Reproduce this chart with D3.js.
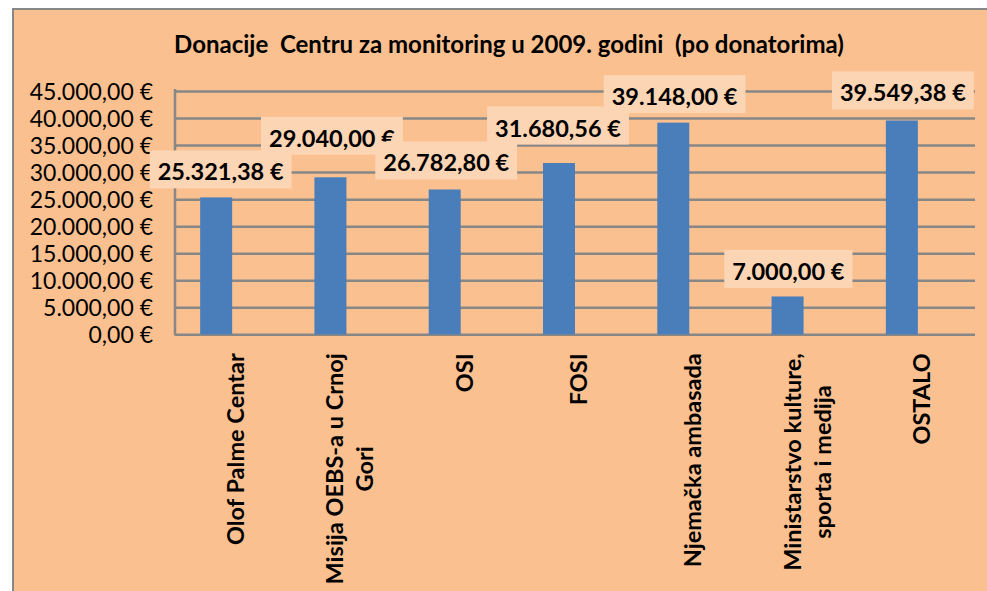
<!DOCTYPE html>
<html>
<head>
<meta charset="utf-8">
<script src="https://d3js.org/d3.v7.min.js"></script>
<style>
    html, body { margin: 0; padding: 0; background: #ffffff; }
    svg { display: block; font-family: Lato, "Noto Sans", sans-serif; }
    .title { white-space: pre; }
</style>
</head>
<body>
<svg id="drawing_region"></svg>
<script>
const title = 'Donacije  Centru za monitoring u 2009. godini  (po donatorima)';
const categories = ['Olof Palme Centar', 'Misija OEBS-a u Crnoj Gori', 'OSI', 'FOSI',
    'Njemačka ambasada', 'Ministarstvo kulture, sporta i medija', 'OSTALO'];
const category_lines = [['Olof Palme Centar'], ['Misija OEBS-a u Crnoj', 'Gori'], ['OSI'], ['FOSI'],
    ['Njemačka ambasada'], ['Ministarstvo kulture,', 'sporta i medija'], ['OSTALO']];
const values = [25321.38, 29040.00, 26782.80, 31680.56, 39148.00, 7000.00, 39549.38];
const y_ticks = [0, 5000, 10000, 15000, 20000, 25000, 30000, 35000, 40000, 45000];

// data labels were dragged by hand in the original, offsets in px from bar top / bar center
const label_dx = [4.5, 1.5, 1.5, -1, 1.3, 0.8, 1];
const label_dy = [-17, -30.5, -18, -26.5, -17.5, -16.5, -19];

const euro = d3.formatLocale({ decimal: ',', thousands: '.', grouping: [3], currency: ['', ' €'] })
    .format('$,.2f');

class DonationChart {

    constructor( config ) {
        this.config = config;
        this.init();
    }

    init() {
        let self = this;
        const c = self.config;

        self.svg = d3.select( c.parent )
            .attr('width', c.width)
            .attr('height', c.height);

        // chart frame
        self.svg.append('rect')
            .attr('x', c.frame.x).attr('y', c.frame.y)
            .attr('width', c.width + 20).attr('height', c.height + 20)
            .attr('fill', '#fac090')
            .attr('stroke', '#878787')
            .attr('stroke-width', 2);

        self.xscale = d3.scaleBand()
            .domain( categories )
            .range( [c.plot.left, c.plot.right] )
            .padding( 0 );

        // second (empty) series slot, so bars sit left of the category center
        self.subscale = d3.scaleBand()
            .domain( ['donacije', 'prazno'] )
            .range( [0, self.xscale.bandwidth()] )
            .paddingInner( 0 )
            .paddingOuter( 0.786 );

        self.yscale = d3.scaleLinear()
            .domain( [0, 45000] )
            .range( [c.plot.bottom, c.plot.top] );

        self.yaxis = d3.axisLeft( self.yscale )
            .tickValues( y_ticks )
            .tickFormat( euro )
            .tickSize( -(c.plot.right - c.plot.left) )
            .tickPadding( 22 );
    }

    render() {
        let self = this;
        const c = self.config;

        self.svg.append('text')
            .attr('class', 'title')
            .attr('x', 509)
            .attr('y', 53)
            .attr('text-anchor', 'middle')
            .attr('font-size', 24)
            .attr('font-weight', 'bold')
            .attr('fill', '#000')
            .text( title );

        const yaxis_group = self.svg.append('g')
            .attr('transform', `translate(${c.plot.left}, 0)`)
            .call( self.yaxis );
        yaxis_group.select('.domain').remove();
        yaxis_group.selectAll('.tick line')
            .attr('stroke', '#878787')
            .attr('stroke-width', 2.5);
        yaxis_group.selectAll('.tick text')
            .attr('font-size', 23)
            .attr('font-family', 'Lato, "Noto Sans", sans-serif')
            .attr('fill', '#000')
            .attr('dy', '0.35em');

        self.svg.append('line')
            .attr('x1', c.plot.left).attr('x2', c.plot.left)
            .attr('y1', c.plot.top - 2).attr('y2', c.plot.bottom + 1)
            .attr('stroke', '#878787')
            .attr('stroke-width', 2.5);

        self.svg.selectAll('.bar')
            .data( values )
            .join('rect')
            .attr('class', 'bar')
            .attr('x', (d, i) => self.xscale( categories[i] ) + self.subscale('donacije') )
            .attr('y', d => self.yscale( d ) )
            .attr('width', self.subscale.bandwidth() )
            .attr('height', d => c.plot.bottom - self.yscale( d ) )
            .attr('fill', '#4a7ebb');

        // category labels, rotated, wrapped lines centered
        category_lines.forEach( (lines, i) => {
            const cx = self.xscale( categories[i] ) + self.xscale.bandwidth() / 2;
            const g = self.svg.append('g')
                .attr('transform', `translate(${cx}, ${c.plot.bottom + 19}) rotate(-90)`);
            const texts = g.selectAll('text')
                .data( lines )
                .join('text')
                .attr('text-anchor', 'middle')
                .attr('font-size', 23.5)
                .attr('font-weight', 'bold')
                .attr('fill', '#000')
                .attr('y', (d, j) => 12 + (j - (lines.length - 1) / 2) * 30 )
                .text( d => d );
            let longest = 0;
            texts.each( function() { longest = Math.max( longest, this.getComputedTextLength() ); });
            texts.attr('x', -longest / 2);
        });

        // data labels with light boxes
        values.forEach( (v, i) => {
            const cx = self.xscale( categories[i] ) + self.subscale('donacije') + self.subscale.bandwidth() / 2;
            const g = self.svg.append('g');
            const box = g.append('rect').attr('fill', '#fcd5b5');
            const t = g.append('text')
                .attr('x', cx + label_dx[i])
                .attr('y', self.yscale( v ) + label_dy[i])
                .attr('text-anchor', 'middle')
                .attr('font-size', 23.5)
                .attr('font-weight', 'bold')
                .attr('fill', '#000')
                .text( euro( v ) );
            const w = t.node().getComputedTextLength();
            box.attr('x', cx + label_dx[i] - w / 2 - 8)
                .attr('y', self.yscale( v ) + label_dy[i] - 30)
                .attr('width', w + 16)
                .attr('height', 38);
        });
    }
}

const chart = new DonationChart({
    parent: '#drawing_region',
    width: 987,
    height: 591,
    frame: { x: 13, y: 9 },
    plot: { left: 175, right: 975, top: 91, bottom: 334.3 }
});
chart.render();
</script>
</body>
</html>
